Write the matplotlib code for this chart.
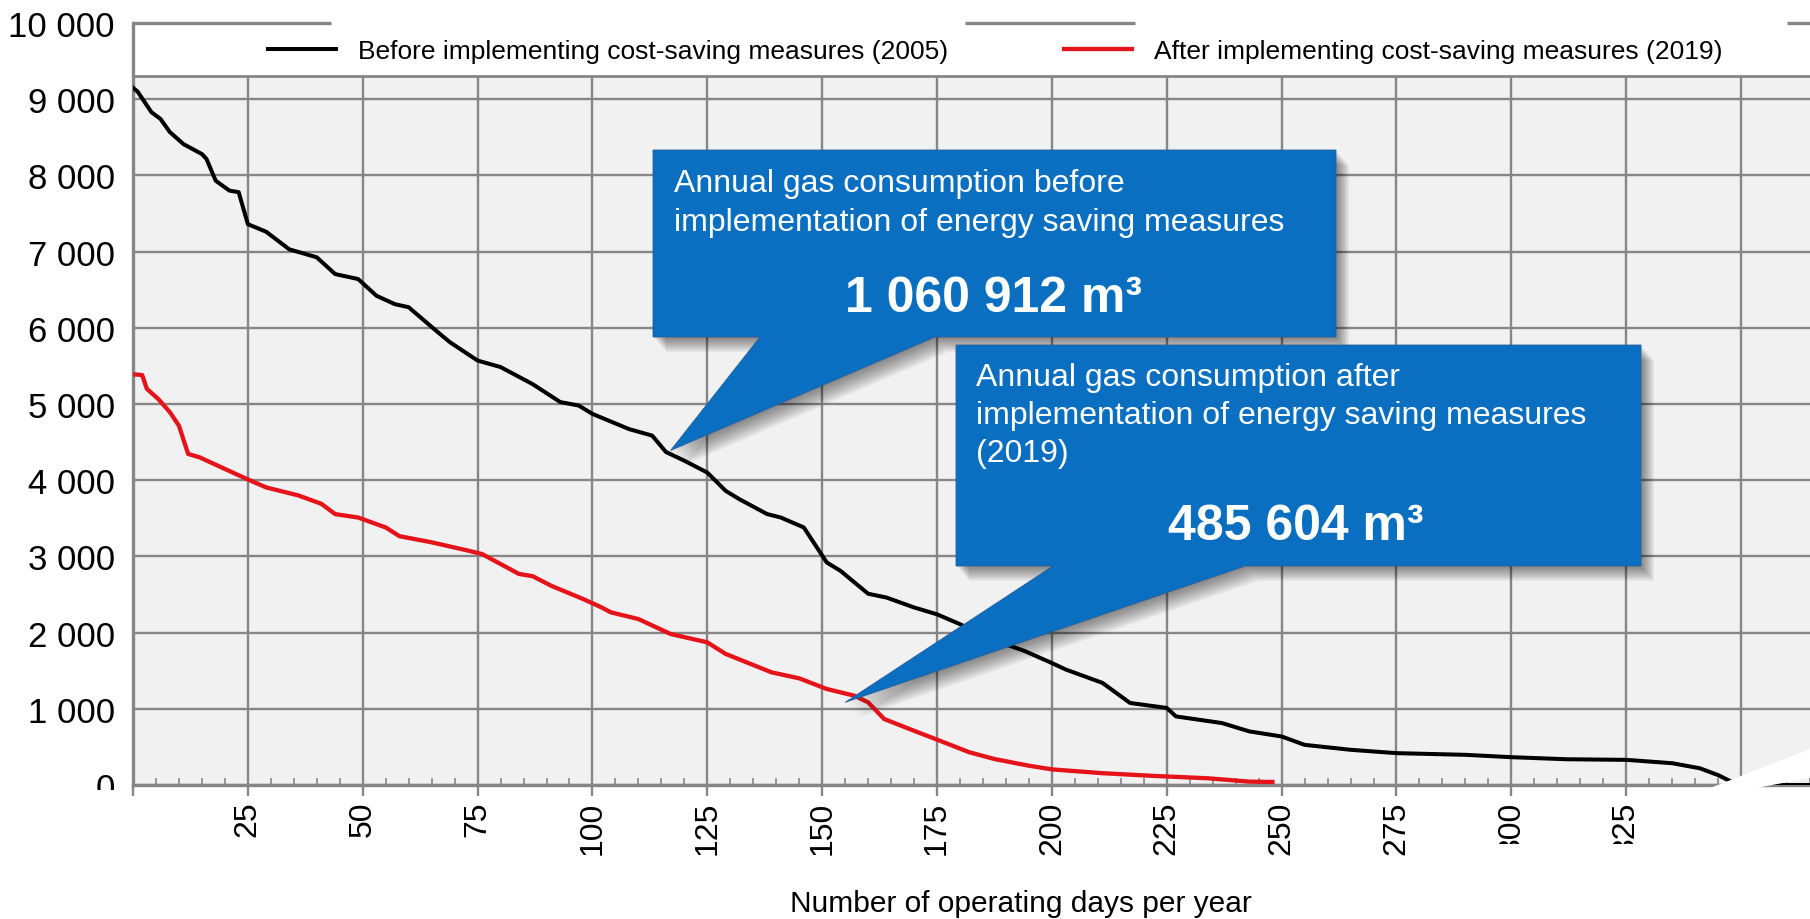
import numpy as np
import matplotlib
matplotlib.use('Agg')
import matplotlib.pyplot as plt
from matplotlib.patches import Polygon, Rectangle
from matplotlib.transforms import IdentityTransform

plt.rcParams['font.family'] = ['Liberation Sans', 'DejaVu Sans']

# Load duration curves (daily gas consumption sorted, m3/day)
before_days = [0, 1, 4, 6, 8, 11, 15, 16, 18, 21, 23, 25, 29, 34, 40, 44, 49, 53, 57, 60,
               66, 69, 75, 80, 87, 93, 97, 100, 108, 113, 116, 120, 125, 129, 132, 138, 141,
               146, 151, 154, 160, 164, 170, 175, 180, 186, 194, 200, 203, 211, 217, 225,
               227, 237, 243, 250, 255, 265, 275, 290, 300, 312, 325, 335, 341, 345, 348,
               350, 365]
before_vals = [9150, 9100, 8830, 8740, 8570, 8410, 8280, 8215, 7930, 7800, 7780, 7360, 7260,
               7030, 6925, 6705, 6640, 6420, 6310, 6270, 5960, 5810, 5570, 5485, 5260, 5025,
               4980, 4870, 4670, 4585, 4370, 4256, 4100, 3860, 3750, 3556, 3510, 3380, 2920,
               2810, 2510, 2460, 2330, 2240, 2110, 1930, 1760, 1600, 1516, 1340, 1077, 1011,
               900, 813, 703, 637, 527, 462, 418, 396, 365, 338, 330, 286, 220, 130, 40, 0, 0]

after_days = [0, 2, 3, 5.5, 8, 10, 12, 14.5, 19, 25, 29, 36, 41, 44, 49, 55, 58, 65, 73, 76,
              84, 87, 91, 98, 102, 104, 110, 117, 125, 129, 139, 145, 151, 157, 160, 163.5,
              169, 176.5, 182, 187.5, 195, 200, 211, 222, 234, 243, 248]
after_vals = [5390, 5380, 5200, 5065, 4895, 4715, 4345, 4300, 4175, 4010, 3905, 3800, 3690,
              3555, 3510, 3380, 3265, 3185, 3075, 3030, 2770, 2740, 2615, 2440, 2330, 2266,
              2178, 1982, 1872, 1720, 1478, 1400, 1260, 1172, 1085, 866, 735, 560, 430, 341,
              253, 205, 155, 120, 88, 44, 40]

series_labels = ['Before implementing cost-saving measures (2005)',
                 'After implementing cost-saving measures (2019)']
x_ticks = list(range(0, 351, 25))
x_ticklabels = [''] + [str(t) for t in x_ticks[1:]]
y_ticks = list(range(0, 10001, 1000))
y_ticklabels = ['{:,}'.format(v).replace(',', ' ') for v in y_ticks]

callout_before = ['Annual gas consumption before',
                  'implementation of energy saving measures']
callout_after = ['Annual gas consumption after',
                 'implementation of energy saving measures',
                 '(2019)']
total_before = '1 060 912 m³'
total_after = '485 604 m³'
tip_before = (117, 4390)
tip_after = (155, 1085)

W, H = 1810, 920
fig = plt.figure(figsize=(W / 100, H / 100), dpi=100)
ax = fig.add_axes([133 / W, 1 - 786 / H, (W - 133) / W, 762 / H])
ax.set_facecolor('#f1f1f1')
ax.set_xlim(0, 365)
ax.set_ylim(0, 10000)

grid_c = '#868686'
ax.set_axisbelow(True)
ax.grid(True, which='major', color=grid_c, lw=1.7)
ax.set_xticks(x_ticks)
ax.set_xticklabels(x_ticklabels, rotation=90, fontsize=23)
ax.set_xticks(np.arange(0, 366, 5), minor=True)
ax.set_yticks(y_ticks)
ax.set_yticklabels(y_ticklabels, fontsize=25)
ax.tick_params(axis='x', which='major', direction='out', length=8, width=1.7,
               color=grid_c, pad=3)
ax.tick_params(axis='x', which='minor', direction='in', length=5, width=1.2, color=grid_c)
ax.tick_params(axis='y', length=0, pad=13)
for s in ['top', 'right']:
    ax.spines[s].set_visible(False)
for s in ['left', 'bottom']:
    ax.spines[s].set_color(grid_c)
    ax.spines[s].set_linewidth(2.4)

# white legend strip at top
ax.add_patch(Rectangle((0, 9300), 365, 700, facecolor='white', edgecolor='none', zorder=1))
ax.axhline(9300, color=grid_c, lw=2, zorder=1.1)
for a, b in [(0, 43), (181, 218), (360, 365)]:
    ax.plot([a, b], [10000, 10000], color=grid_c, lw=2.4, clip_on=False, zorder=1.1,
            solid_capstyle='butt')

l1, = ax.plot(before_days, before_vals, color='black', lw=2.9, zorder=3)
l2, = ax.plot(after_days, after_vals, color='#e5141b', lw=3.1, zorder=3)
ax.legend([l1, l2], series_labels, loc='center', bbox_to_anchor=(0.514, 0.963), ncol=2,
          frameon=False, fontsize=19, handlelength=2.6, handletextpad=0.8,
          columnspacing=4.4, borderaxespad=0)

fig.text(1021 / W, 1 - 904 / H, 'Number of operating days per year', fontsize=21.5,
         ha='center', va='center')


def to_disp(px, py):
    return (px, H - py)


def callout(box, base, tip_data):
    x0, y0, x1, y1 = box
    tx, ty = ax.transData.transform(tip_data)
    pts = [to_disp(x0, y0), to_disp(x1, y0), to_disp(x1, y1), to_disp(base[1], y1),
           (tx, ty), to_disp(base[0], y1), to_disp(x0, y1)]
    pts = np.array(pts)
    for i in range(1, 11):
        sh = pts + np.array([i * 1.3, -i * 1.5])
        fig.add_artist(Polygon(sh, closed=True, facecolor='black', edgecolor='none',
                               alpha=0.05, transform=IdentityTransform(), zorder=4))
    fig.add_artist(Polygon(pts, closed=True, facecolor='#0a6fc0', edgecolor='#2a5f9a',
                           lw=0.6, transform=IdentityTransform(), zorder=5))


callout((653, 151, 1336, 338), (760, 935), tip_before)
callout((956, 346, 1641, 567), (1053, 1245), tip_after)

for i, line in enumerate(callout_before):
    fig.text(674 / W, 1 - (184 + 39 * i) / H, line, color='white', fontsize=23,
             ha='left', va='center', zorder=6)
fig.text(994 / W, 1 - 299 / H, total_before, color='white', fontsize=36,
         fontweight='bold', ha='center', va='center', zorder=6)
for i, line in enumerate(callout_after):
    fig.text(976 / W, 1 - (378 + 38 * i) / H, line, color='white', fontsize=23,
             ha='left', va='center', zorder=6)
fig.text(1296 / W, 1 - 527 / H, total_after, color='white', fontsize=36,
         fontweight='bold', ha='center', va='center', zorder=6)

# white erased areas of the original picture
fig.add_artist(Rectangle((0, 0), 128, H - 791, facecolor='white', edgecolor='none',
                         transform=IdentityTransform(), zorder=10))
erase = [(1440, 920), (1440, 845), (1665, 845), (1700, 793), (1810, 750), (1810, 779),
         (1745, 791), (1810, 791), (1810, 920)]
fig.add_artist(Polygon([to_disp(*p) for p in erase], closed=True, facecolor='white',
                       edgecolor='none', transform=IdentityTransform(), zorder=10))

fig.savefig('out.png', dpi=100)
